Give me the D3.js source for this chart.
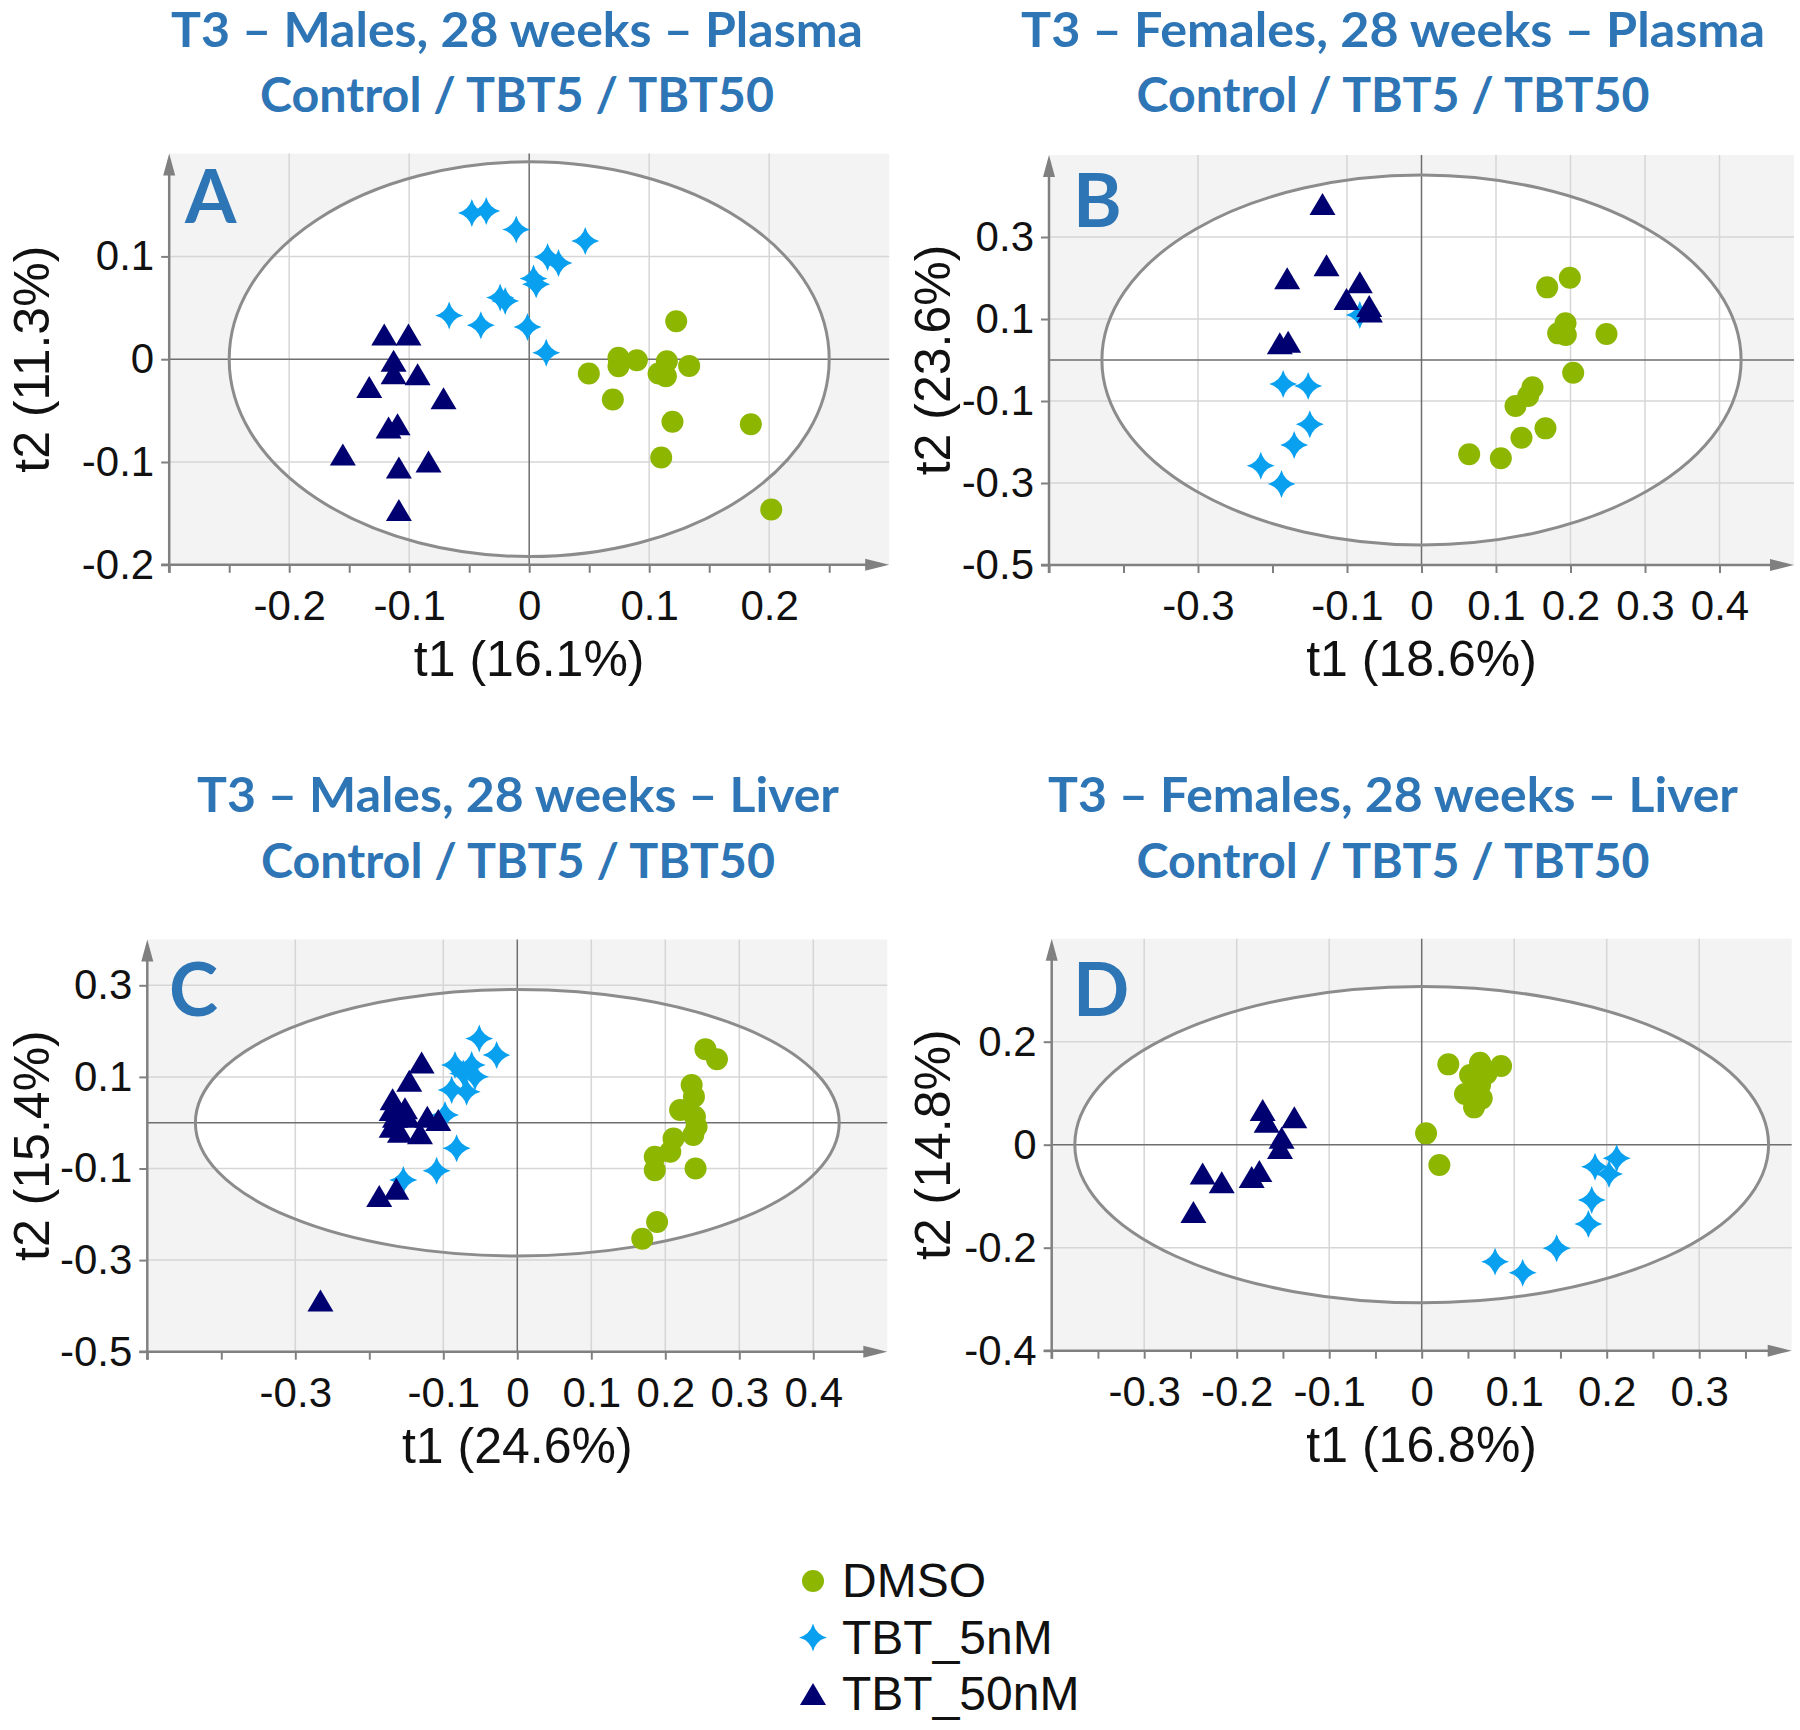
<!DOCTYPE html>
<html>
<head>
<meta charset="utf-8">
<script src="https://cdn.jsdelivr.net/npm/d3@7"></script>
<style>
  body { margin: 0; background: #ffffff; }
  svg { display: block; }
</style>
</head>
<body>
<div id="chart"></div>
<script>
// SVG size
var svgWidth = 1800;
var svgHeight = 1730;

// groups and their colours
var groups = ["DMSO", "TBT_5nM", "TBT_50nM"];
var groupColors = ["#8db600", "#0aa0f0", "#000070"];

// titles / labels
var titleLine1 = ["T3 \u2013 Males, 28 weeks \u2013 Plasma", "T3 \u2013 Females, 28 weeks \u2013 Plasma",
                  "T3 \u2013 Males, 28 weeks \u2013 Liver", "T3 \u2013 Females, 28 weeks \u2013 Liver"];
var titleLine2 = ["Control / TBT5 / TBT50", "Control / TBT5 / TBT50", "Control / TBT5 / TBT50", "Control / TBT5 / TBT50"];
var panelLetters = ["A", "B", "C", "D"];
var xTitles = ["t1 (16.1%)", "t1 (18.6%)", "t1 (24.6%)", "t1 (16.8%)"];
var yTitles = ["t2 (11.3%)", "t2 (23.6%)", "t2 (15.4%)", "t2 (14.8%)"];

// tick labels per panel
var aXTicks = [-0.2, -0.1, 0, 0.1, 0.2];
var aYTicks = [0.1, 0, -0.1, -0.2];
var bXTicks = [-0.3, -0.1, 0, 0.1, 0.2, 0.3, 0.4];
var bYTicks = [0.3, 0.1, -0.1, -0.3, -0.5];
var cXTicks = [-0.3, -0.1, 0, 0.1, 0.2, 0.3, 0.4];
var cYTicks = [0.3, 0.1, -0.1, -0.3, -0.5];
var dXTicks = [-0.3, -0.2, -0.1, 0, 0.1, 0.2, 0.3];
var dYTicks = [0.2, 0, -0.2, -0.4];

// axis domains
var aDomains = [[-0.3, 0.3], [-0.2, 0.2]];
var bDomains = [[-0.5, 0.5], [-0.5, 0.5]];
var cDomains = [[-0.5, 0.5], [-0.5, 0.4]];
var dDomains = [[-0.4, 0.4], [-0.4, 0.4]];

// Hotelling T2 ellipse radii (t1, t2)
var ellipseRadii = [[0.25, 0.192], [0.429, 0.451], [0.435, 0.291], [0.375, 0.307]];

// scores [t1, t2] - A: males plasma
var aDmso = [[0.1225, 0.037], [0.0744, 0.0013], [0.0744, -0.0068], [0.0897, -0.001], [0.1147, -0.0019],
             [0.1078, -0.0139], [0.1139, -0.0165], [0.1333, -0.0065], [0.0497, -0.0139], [0.0697, -0.0392],
             [0.1194, -0.0609], [0.1847, -0.0632], [0.11, -0.0956], [0.2017, -0.1462]];
var aTbt5 = [[-0.0478, 0.1423], [-0.0358, 0.1442], [-0.0108, 0.1261], [0.0467, 0.1151], [0.0153, 0.0995],
             [0.0244, 0.0937], [0.0036, 0.0784], [0.0058, 0.0729], [-0.0242, 0.06], [-0.02, 0.0567],
             [-0.0667, 0.0425], [-0.0403, 0.033], [-0.0014, 0.0314], [0.0142, 0.0062]];
var aTbt50 = [[-0.1208, 0.024], [-0.1006, 0.024], [-0.113, -0.0016], [-0.113, -0.0136], [-0.093, -0.0146],
              [-0.1333, -0.027], [-0.0714, -0.038], [-0.1172, -0.0665], [-0.1097, -0.0632], [-0.1553, -0.0927],
              [-0.0839, -0.0995], [-0.1086, -0.1053], [-0.1086, -0.1468]];

// B: females plasma
var bDmso = [[0.1991, 0.2008], [0.1687, 0.1772], [0.1933, 0.0894], [0.1834, 0.065], [0.1937, 0.061],
             [0.2483, 0.0634], [0.2036, -0.0309], [0.149, -0.0667], [0.1432, -0.0878], [0.1262, -0.1122],
             [0.1664, -0.1667], [0.1342, -0.1894], [0.064, -0.23], [0.1065, -0.2398]];
var bTbt5 = [[-0.0828, 0.1098], [-0.1857, -0.0585], [-0.1521, -0.0634], [-0.1499, -0.1569],
             [-0.1709, -0.2073], [-0.2157, -0.2577], [-0.1879, -0.3024]];
var bTbt50 = [[-0.1329, 0.3805], [-0.1275, 0.2309], [-0.1803, 0.1992], [-0.0828, 0.1894], [-0.1007, 0.1488],
              [-0.0702, 0.1317], [-0.0693, 0.118], [-0.1902, 0.0407], [-0.179, 0.0447]];

// C: males liver
var cDmso = [[0.2542, 0.1606], [0.2698, 0.1387], [0.2356, 0.0825], [0.2387, 0.0569], [0.22, 0.0277],
             [0.24, 0.0131], [0.2422, -0.0088], [0.2378, -0.027], [0.2111, -0.0343], [0.2067, -0.0635],
             [0.1858, -0.0745], [0.1858, -0.1036], [0.2409, -0.1], [0.1889, -0.2168], [0.1689, -0.2533]];
var cTbt5 = [[-0.0514, 0.184], [-0.0279, 0.1476], [-0.0842, 0.1258], [-0.0617, 0.1258], [-0.073, 0.1076],
             [-0.0572, 0.1004], [-0.0887, 0.0713], [-0.0685, 0.0676], [-0.0977, 0.0167], [-0.082, -0.056],
             [-0.109, -0.1047], [-0.154, -0.125]];
var cTbt50 = [[-0.1293, 0.1316], [-0.146, 0.0916], [-0.1685, 0.051], [-0.1698, 0.0276], [-0.1518, 0.0313],
              [-0.1653, 0.013], [-0.1486, 0.013], [-0.1216, 0.013], [-0.1068, 0.006], [-0.1586, -0.0196],
              [-0.1315, -0.0233], [-0.1698, -0.0087], [-0.1866, -0.16], [-0.1635, -0.144], [-0.266, -0.388]];

// D: females liver
var dDmso = [[0.0288, 0.156], [0.0631, 0.1592], [0.0858, 0.1528], [0.0703, 0.1385], [0.0523, 0.1353],
             [0.0631, 0.1159], [0.0468, 0.0984], [0.0649, 0.09], [0.0566, 0.0725], [0.0047, 0.022],
             [0.0191, -0.0395]];
var dTbt5 = [[0.2108, -0.0265], [0.1874, -0.0427], [0.2025, -0.057], [0.1838, -0.1074], [0.1802, -0.154],
             [0.1459, -0.2013], [0.0793, -0.2272], [0.1092, -0.2485]];
var dTbt50 = [[-0.1719, 0.0673], [-0.1676, 0.0447], [-0.1377, 0.0531], [-0.1514, 0.0136], [-0.1532, -0.0065],
              [-0.2368, -0.0557], [-0.2162, -0.0731], [-0.1838, -0.0628], [-0.1755, -0.0511], [-0.2468, -0.1307]];

// where each panel sits on the page (pixels)
var layout = [
  { xRange: [169.2, 889.2], yRange: [564.8, 153.6], minorStep: 0.05, titleX: 517, titleY: [47, 112],
    titleLen: [692, 514], letterXY: [185, 223], yTitleX: 49 },
  { xRange: [1049, 1794], yRange: [565, 155], minorStep: 0.1, titleX: 1393, titleY: [47, 112],
    titleLen: [744, 513], letterXY: [1073, 227], yTitleX: 950 },
  { xRange: [147.3, 887.3], yRange: [1351.7, 939.5], minorStep: 0.1, titleX: 518, titleY: [812, 878],
    titleLen: [642, 514], letterXY: [169, 1016], yTitleX: 49 },
  { xRange: [1051.7, 1791.7], yRange: [1350.7, 938.7], minorStep: 0.05, titleX: 1393, titleY: [812, 878],
    titleLen: [690, 513], letterXY: [1073, 1016], yTitleX: 950 }
];

var panels = [
  { domains: aDomains, xTicks: aXTicks, yTicks: aYTicks, series: [aDmso, aTbt5, aTbt50] },
  { domains: bDomains, xTicks: bXTicks, yTicks: bYTicks, series: [bDmso, bTbt5, bTbt50] },
  { domains: cDomains, xTicks: cXTicks, yTicks: cYTicks, series: [cDmso, cTbt5, cTbt50] },
  { domains: dDomains, xTicks: dXTicks, yTicks: dYTicks, series: [dDmso, dTbt5, dTbt50] }
];

var numFont = "'Liberation Sans', Arial, sans-serif";
var titleFont = "Lato, 'Open Sans', sans-serif";
var blue = "#2e75b6";

// marker shapes
function starPath(R) {
  var c = 3;
  return `M0,${-R}Q${c},${-c} ${R},0Q${c},${c} 0,${R}Q${-c},${c} ${-R},0Q${-c},${-c} 0,${-R}Z`;
}
function trianglePath(w, h) {
  return `M0,${-h / 2}L${w / 2},${h / 2}L${-w / 2},${h / 2}Z`;
}
function drawMarker(sel, groupIndex) {
  if (groupIndex === 0) {
    sel.append("circle").attr("r", 11).attr("fill", groupColors[0]);
  } else if (groupIndex === 1) {
    sel.append("path").attr("d", starPath(14)).attr("fill", groupColors[1]);
  } else {
    sel.append("path").attr("d", trianglePath(26, 22)).attr("fill", groupColors[2]);
  }
}

function fmt(d) { return String(+d.toFixed(2)); }

var svg = d3.select("#chart")
  .append("svg")
  .attr("width", svgWidth)
  .attr("height", svgHeight);

panels.forEach(function(p, i) {
  var L = layout[i];
  var x = d3.scaleLinear().domain(p.domains[0]).range(L.xRange);
  var y = d3.scaleLinear().domain(p.domains[1]).range(L.yRange);
  var g = svg.append("g");

  var x0 = L.xRange[0], x1 = L.xRange[1];
  var yBot = L.yRange[0], yTop = L.yRange[1];

  // grey plot background
  g.append("rect")
    .attr("x", x0).attr("y", yTop)
    .attr("width", x1 - x0).attr("height", yBot - yTop)
    .attr("fill", "#f3f3f3");

  // white inside of the ellipse
  var er = ellipseRadii[i];
  g.append("ellipse")
    .attr("cx", x(0)).attr("cy", y(0))
    .attr("rx", x(er[0]) - x(0)).attr("ry", y(0) - y(er[1]))
    .attr("fill", "#ffffff");

  // grid lines at labelled values (not zero, not the axis)
  var xGrid = p.xTicks.filter(d => d !== 0 && d !== p.domains[0][0]);
  var yGrid = p.yTicks.filter(d => d !== 0 && d !== p.domains[1][0]);
  g.selectAll(".vgrid").data(xGrid).enter().append("line")
    .attr("x1", d => x(d)).attr("x2", d => x(d))
    .attr("y1", yTop).attr("y2", yBot)
    .attr("stroke", "#d6d6d6").attr("stroke-width", 1.5);
  g.selectAll(".hgrid").data(yGrid).enter().append("line")
    .attr("y1", d => y(d)).attr("y2", d => y(d))
    .attr("x1", x0).attr("x2", x1)
    .attr("stroke", "#d6d6d6").attr("stroke-width", 1.5);

  // zero lines
  g.append("line").attr("x1", x(0)).attr("x2", x(0)).attr("y1", yTop).attr("y2", yBot)
    .attr("stroke", "#6e6e6e").attr("stroke-width", 1.5);
  g.append("line").attr("x1", x0).attr("x2", x1).attr("y1", y(0)).attr("y2", y(0))
    .attr("stroke", "#6e6e6e").attr("stroke-width", 1.5);

  // ellipse outline
  g.append("ellipse")
    .attr("cx", x(0)).attr("cy", y(0))
    .attr("rx", x(er[0]) - x(0)).attr("ry", y(0) - y(er[1]))
    .attr("fill", "none").attr("stroke", "#8c8c8c").attr("stroke-width", 3);

  // axes: tick marks
  var nMinor = Math.round((p.domains[0][1] - p.domains[0][0]) / L.minorStep);
  var minorTicks = d3.range(nMinor).map(k => +(p.domains[0][0] + k * L.minorStep).toFixed(3));
  var xMarks = g.append("g").attr("transform", `translate(0,${yBot})`)
    .call(d3.axisBottom(x).tickValues(minorTicks).tickSize(8).tickFormat(""));
  var yMarks = g.append("g").attr("transform", `translate(${x0},0)`)
    .call(d3.axisLeft(y).tickValues(p.yTicks).tickSize(8).tickFormat(""));
  [xMarks, yMarks].forEach(function(a) {
    a.select(".domain").remove();
    a.selectAll("line").attr("stroke", "#808080").attr("stroke-width", 2);
  });

  // tick labels
  var xLab = g.append("g").attr("transform", `translate(0,${yBot})`)
    .call(d3.axisBottom(x).tickValues(p.xTicks).tickSize(0).tickPadding(25).tickFormat(fmt));
  var yLab = g.append("g").attr("transform", `translate(${x0},0)`)
    .call(d3.axisLeft(y).tickValues(p.yTicks).tickSize(0).tickPadding(15).tickFormat(fmt));
  [xLab, yLab].forEach(function(a) {
    a.select(".domain").remove();
    a.selectAll("text").attr("font-family", numFont).attr("font-size", 42).attr("fill", "#111");
  });

  // axis lines with arrow heads
  g.append("line").attr("x1", x0 - 8).attr("x2", x1 - 10).attr("y1", yBot).attr("y2", yBot)
    .attr("stroke", "#808080").attr("stroke-width", 2.5);
  g.append("line").attr("x1", x0).attr("x2", x0).attr("y1", yBot + 8).attr("y2", yTop + 10)
    .attr("stroke", "#808080").attr("stroke-width", 2.5);
  g.append("path")
    .attr("d", `M${x1},${yBot}L${x1 - 24},${yBot - 6}L${x1 - 24},${yBot + 6}Z`)
    .attr("fill", "#808080");
  g.append("path")
    .attr("d", `M${x0},${yTop}L${x0 - 6},${yTop + 22}L${x0 + 6},${yTop + 22}Z`)
    .attr("fill", "#808080");

  // axis titles
  g.append("text")
    .attr("x", (x0 + x1) / 2).attr("y", yBot + 111)
    .attr("text-anchor", "middle")
    .attr("font-family", numFont).attr("font-size", 50).attr("fill", "#111")
    .text(xTitles[i]);
  g.append("text")
    .attr("transform", `translate(${L.yTitleX},${(yTop + yBot) / 2}) rotate(-90)`)
    .attr("text-anchor", "middle")
    .attr("font-family", numFont).attr("font-size", 50).attr("fill", "#111")
    .text(yTitles[i]);

  // points: DMSO, then TBT_5nM, then TBT_50nM on top
  p.series.forEach(function(pts, gi) {
    var marks = g.selectAll(".pt" + gi).data(pts).enter().append("g")
      .attr("transform", d => `translate(${x(d[0])},${y(d[1])})`);
    drawMarker(marks, gi);
  });

  // panel letter
  g.append("text")
    .attr("x", L.letterXY[0]).attr("y", L.letterXY[1])
    .attr("font-family", titleFont).attr("font-weight", 700).attr("font-size", 74)
    .attr("fill", blue)
    .text(panelLetters[i]);

  // two-line panel title
  [titleLine1[i], titleLine2[i]].forEach(function(t, k) {
    svg.append("text")
      .attr("x", L.titleX).attr("y", L.titleY[k])
      .attr("text-anchor", "middle")
      .attr("font-family", titleFont).attr("font-weight", 700).attr("font-size", 47)
      .attr("fill", blue)
      .attr("textLength", L.titleLen[k]).attr("lengthAdjust", "spacingAndGlyphs")
      .text(t);
  });
});

// legend
var legend = svg.append("g").attr("transform", "translate(813,1581)");
groups.forEach(function(name, gi) {
  var row = legend.append("g").attr("transform", `translate(0,${gi * 56.5})`);
  drawMarker(row, gi);
  row.append("text")
    .attr("x", 29).attr("y", 16)
    .attr("font-family", numFont).attr("font-size", 48).attr("fill", "#111")
    .text(name);
});
</script>
</body>
</html>
